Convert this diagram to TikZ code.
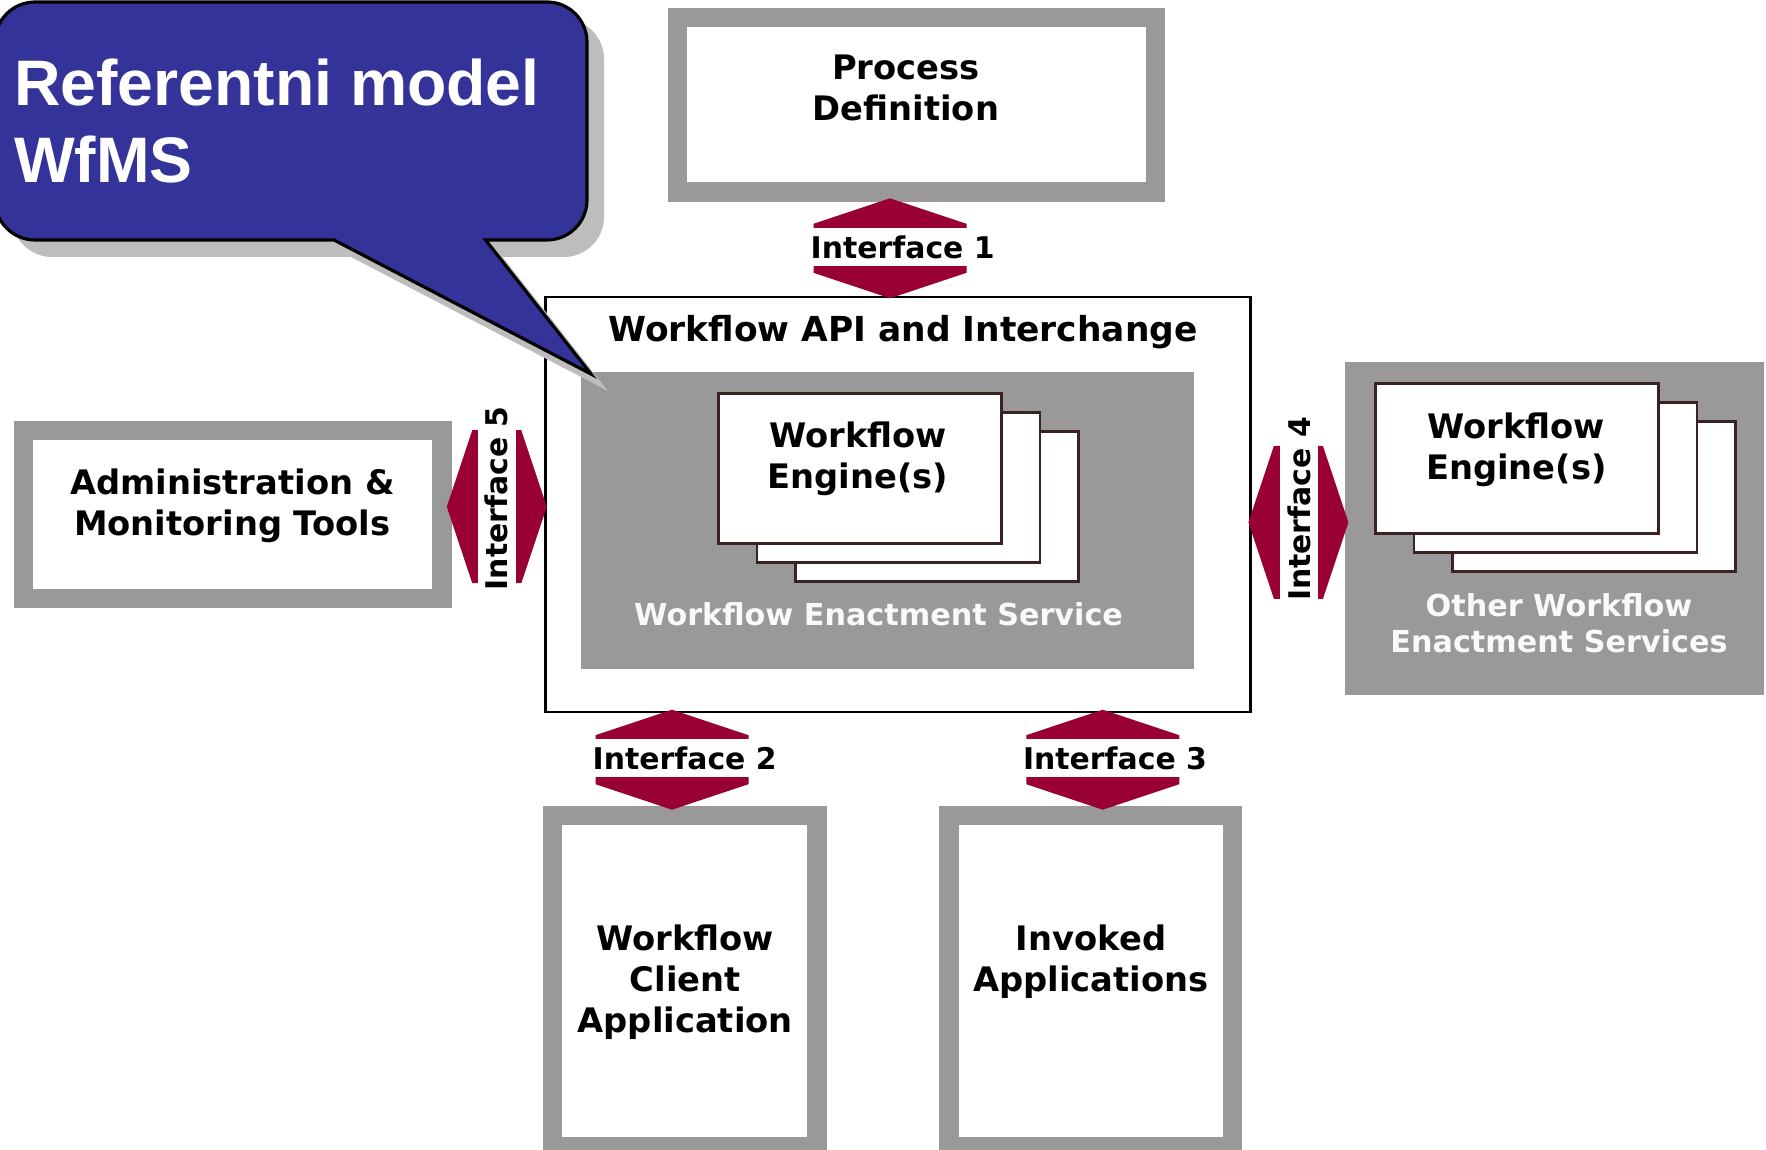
\documentclass[tikz,border=0pt]{standalone}
\usepackage{fontspec}
\setmainfont{DejaVu Sans}
\newfontfamily\bubblefont{Liberation Sans}
\usetikzlibrary{calc,positioning}

\definecolor{wfgray}{HTML}{999999}
\definecolor{wfred}{HTML}{990033}
\definecolor{bubbleblue}{HTML}{333399}
\definecolor{bubbleshadow}{HTML}{BDBDBD}
\definecolor{cardline}{HTML}{3A2222}

% outline of the speech bubble (rounded box with a tail)
\newcommand{\bubbleoutline}{%
  (3.34,-2.40) -- (0.35,-2.40) arc[start angle=270,end angle=180,radius=0.4]
  -- (-0.05,-0.42) arc[start angle=180,end angle=90,radius=0.4]
  -- (5.47,-0.02) arc[start angle=90,end angle=0,radius=0.4]
  -- (5.87,-2.00) arc[start angle=0,end angle=-90,radius=0.4]
  -- (4.856,-2.40) -- (5.91,-3.74) -- cycle}

\begin{document}
\begin{tikzpicture}[
		x=1cm,
		y=1cm,
		line join=miter,
		toolbox/.style={draw=wfgray, line width=0.195cm, fill=white, inner sep=0pt},
		servicebox/.style={fill=wfgray, inner sep=0pt},
		enginecard/.style={draw=cardline, line width=0.7pt, fill=white,
			minimum width=2.83cm, minimum height=1.50cm, inner sep=0pt},
		boxlabel/.style={font=\bfseries\fontsize{9.6}{11.6}\selectfont, align=center, inner sep=0pt},
		servicelabel/.style={font=\bfseries\fontsize{8.6}{10.3}\selectfont, text=white!95!gray,
			align=center, inner sep=0pt},
		iflabel/.style={font=\bfseries\fontsize{8.5}{10}\selectfont, fill=white,
			inner xsep=0.5pt, inner ysep=0pt, minimum height=0.38cm},
		iflink/.pic={
			\fill[wfred] (0,0.50) -- (0.765,0.245) -- (0.765,-0.245) -- (0,-0.50)
			-- (-0.765,-0.245) -- (-0.765,0.245) -- cycle;
		}
		]
		
		\useasboundingbox (0,0) rectangle (17.66,-11.50);
		
		%------------------------------------------------------------------
		% Outer tool boxes
		%------------------------------------------------------------------
		\node[toolbox, minimum width=4.782cm, minimum height=1.747cm] (procdef) at (9.165,-1.047) {};
		\node[toolbox, minimum width=4.183cm, minimum height=1.681cm] (admin)   at (2.327,-5.145) {};
		\node[toolbox, minimum width=2.645cm, minimum height=3.315cm] (client)  at (6.847,-9.815) {};
		\node[toolbox, minimum width=2.835cm, minimum height=3.315cm] (invoked) at (10.905,-9.815) {};
		
		\node[boxlabel] (procdefText) at (9.06,-0.882) {Process\\Definition};
		\node[boxlabel] (adminText)   at (2.323,-5.056) {Administration \&\\Monitoring Tools};
		\node[boxlabel] (clientText)  at (6.852,-9.82) {Workflow\\Client\\Application};
		\node[boxlabel] (invokedText) at (10.91,-9.616) {Invoked\\Applications};
		
		%------------------------------------------------------------------
		% Workflow API and enactment services
		%------------------------------------------------------------------
		\node[draw=black, line width=0.7pt, fill=white, minimum width=7.052cm,
		minimum height=4.147cm, inner sep=0pt] (api) at (8.981,-5.044) {};
		\node[boxlabel, anchor=base, font=\bfseries\fontsize{9.8}{11.6}\selectfont] (apiText)
		at (9.03,-3.42) {Workflow API and Interchange};
		
		\node[servicebox, minimum width=6.127cm, minimum height=2.976cm] (wfes) at (8.877,-5.205) {};
		\node[servicebox, minimum width=4.195cm, minimum height=3.333cm] (owes) at (15.543,-5.284) {};
		
		% Engine stacks
		\node[enginecard] (engA3) at (9.372,-5.067) {};
		\node[enginecard] (engA2) at (8.987,-4.875) {};
		\node[enginecard] (engA1) at (8.602,-4.683) {};
		
		\node[enginecard] (engB3) at (15.942,-4.967) {};
		\node[enginecard] (engB2) at (15.557,-4.775) {};
		\node[enginecard] (engB1) at (15.172,-4.583) {};
		
		\node[boxlabel] (engAText) at (8.58,-4.586) {Workflow\\Engine(s)};
		\node[boxlabel] (engBText) at (15.163,-4.496) {Workflow\\Engine(s)};
		
		\node[servicelabel, anchor=base] (wfesText) at (8.786,-6.26) {Workflow Enactment Service};
		\node[servicelabel] (owesText) at (15.59,-6.234) {Other Workflow\\Enactment Services};
		
		%------------------------------------------------------------------
		% Interfaces
		%------------------------------------------------------------------
		\coordinate (if1) at (8.90,-2.483);
		\coordinate (if2) at (6.72,-7.597);
		\coordinate (if3) at (11.028,-7.597);
		\coordinate (if4) at (12.984,-5.224);
		\coordinate (if5) at (4.968,-5.067);
		
		\pic at (if1) {iflink};
		\pic at (if2) {iflink};
		\pic at (if3) {iflink};
		\pic[rotate=90] at (if4) {iflink};
		\pic[rotate=90] at (if5) {iflink};
		
		\node[iflabel] (if1Text) at (9.027,-2.47) {Interface 1};
		\node[iflabel] (if2Text) at (6.847,-7.583) {Interface 2};
		\node[iflabel] (if3Text) at (11.15,-7.583) {Interface 3};
		\node[iflabel, rotate=90] (if4Text) at (12.99,-5.09) {Interface 4};
		\node[iflabel, rotate=90] (if5Text) at (4.968,-4.983) {Interface 5};
		
		%------------------------------------------------------------------
		% Speech bubble
		%------------------------------------------------------------------
		\fill[bubbleshadow, shift={(0.17,-0.17)}] \bubbleoutline;
		\draw[fill=bubbleblue, line width=0.9pt] \bubbleoutline;
		
		\node[anchor=north west, inner sep=0pt, align=left, text=white,
		font=\bubblefont\bfseries\fontsize{18.3}{21.8}\selectfont] (bubbleText) at (0.135,-0.585)
		{Referentni model\\WfMS};
		
	\end{tikzpicture}
\end{document}
